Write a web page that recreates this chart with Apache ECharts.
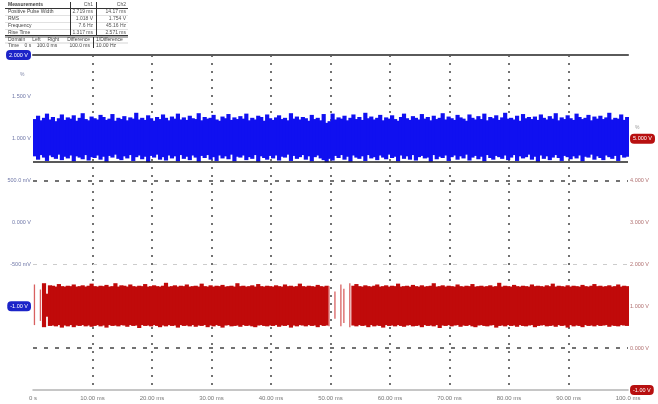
<!DOCTYPE html>
<html><head><meta charset="utf-8">
<script src="https://cdn.jsdelivr.net/npm/echarts@6/dist/echarts.min.js"></script>
<style>html,body{margin:0;padding:0;background:#fff}#c{width:658px;height:404px}</style>
</head><body><div id="c"></div>
<script>
// ---- data ----
const xTickLabels = ['0 s','10.00 ms','20.00 ms','30.00 ms','40.00 ms','50.00 ms','60.00 ms','70.00 ms','80.00 ms','90.00 ms','100.0 ms'];
const leftTickLabels = ['', '', '-1.00 V', '-500 mV', '0.000 V', '500.0 mV', '1.000 V', '1.500 V', '2.000 V'];
const rightTickLabels = ['-1.00 V', '0.000 V', '1.000 V', '2.000 V', '3.000 V', '4.000 V', '5.000 V', '', ''];
const sampleStep = 0.5; // ms per sample
const blueFloor = 5.44;
const blueHi = [
6.47,6.55,6.44,6.50,6.60,6.46,6.52,6.42,6.49,6.58,
6.45,6.51,6.48,6.56,6.43,6.50,6.61,6.47,6.44,6.53,
6.49,6.46,6.57,6.52,6.45,6.48,6.59,6.43,6.50,6.47,
6.54,6.44,6.51,6.48,6.62,6.46,6.50,6.45,6.56,6.49,
6.43,6.52,6.47,6.58,6.50,6.44,6.53,6.48,6.60,6.46,
6.51,6.45,6.55,6.49,6.47,6.61,6.44,6.52,6.48,6.50,
6.57,6.46,6.43,6.53,6.49,6.59,6.45,6.51,6.47,6.54,
6.48,6.60,6.44,6.50,6.46,6.55,6.52,6.43,6.58,6.49,
6.45,6.51,6.56,6.47,6.50,6.44,6.61,6.48,6.53,6.46,
6.52,6.49,6.43,6.57,6.47,6.50,6.44,6.59,6.38,6.42,
6.60,6.46,6.51,6.48,6.55,6.44,6.50,6.58,6.47,6.52,
6.45,6.62,6.49,6.53,6.46,6.50,6.57,6.44,6.51,6.48,
6.56,6.47,6.43,6.52,6.60,6.49,6.45,6.54,6.50,6.46,
6.59,6.48,6.52,6.44,6.55,6.47,6.50,6.61,6.46,6.53,
6.49,6.45,6.57,6.51,6.48,6.43,6.58,6.50,6.46,6.54,
6.47,6.60,6.44,6.52,6.49,6.56,6.45,6.51,6.62,6.48,
6.50,6.46,6.55,6.43,6.59,6.49,6.52,6.47,6.53,6.45,
6.58,6.50,6.46,6.54,6.48,6.61,6.44,6.51,6.47,6.56,
6.49,6.45,6.60,6.52,6.47,6.50,6.57,6.44,6.53,6.48,
6.55,6.47,6.51,6.62,6.46,6.50,6.48,6.58,6.45,6.52];
const blueLo = [
5.58,5.50,5.61,5.55,5.47,5.60,5.56,5.52,5.62,5.49,
5.57,5.53,5.60,5.46,5.58,5.55,5.51,5.61,5.48,5.56,
5.54,5.60,5.50,5.57,5.45,5.59,5.55,5.62,5.52,5.49,
5.58,5.53,5.61,5.47,5.56,5.60,5.51,5.57,5.44,5.59,
5.55,5.62,5.50,5.56,5.48,5.60,5.53,5.58,5.46,5.61,
5.52,5.57,5.49,5.60,5.55,5.45,5.59,5.54,5.61,5.50,
5.56,5.47,5.60,5.53,5.58,5.51,5.62,5.46,5.57,5.55,
5.60,5.49,5.56,5.52,5.61,5.45,5.58,5.54,5.50,5.59,
5.53,5.60,5.48,5.57,5.55,5.62,5.47,5.59,5.52,5.56,
5.61,5.50,5.58,5.46,5.56,5.60,5.53,5.49,5.44,5.52,
5.48,5.59,5.54,5.61,5.50,5.57,5.45,5.60,5.55,5.52,
5.58,5.47,5.61,5.53,5.56,5.49,5.60,5.55,5.51,5.62,
5.54,5.57,5.46,5.60,5.52,5.58,5.50,5.61,5.48,5.56,
5.59,5.53,5.55,5.45,5.61,5.51,5.57,5.54,5.60,5.47,
5.56,5.60,5.50,5.58,5.53,5.62,5.48,5.55,5.59,5.51,
5.57,5.46,5.61,5.54,5.50,5.59,5.56,5.52,5.60,5.49,
5.55,5.61,5.47,5.58,5.53,5.56,5.62,5.50,5.57,5.45,
5.60,5.52,5.58,5.49,5.55,5.61,5.54,5.47,5.59,5.56,
5.51,5.58,5.53,5.60,5.46,5.57,5.55,5.62,5.50,5.58,
5.54,5.49,5.60,5.56,5.52,5.59,5.47,5.61,5.55,5.57];
const redHi = [
2.52,null,2.40,2.55,2.30,2.50,2.49,2.47,2.53,2.48,
2.47,2.49,2.48,2.52,2.47,2.48,2.50,2.47,2.49,2.54,
2.48,2.47,2.49,2.48,2.51,2.47,2.48,2.55,2.47,2.50,
2.49,2.47,2.52,2.48,2.47,2.49,2.48,2.53,2.47,2.48,
2.50,2.48,2.47,2.49,2.56,2.47,2.48,2.50,2.47,2.49,
2.48,2.52,2.47,2.48,2.49,2.47,2.54,2.48,2.47,2.50,
2.47,2.49,2.48,2.51,2.47,2.48,2.49,2.47,2.55,2.48,
2.49,2.47,2.48,2.50,2.47,2.53,2.48,2.47,2.49,2.48,
2.47,2.50,2.48,2.47,2.52,2.48,2.49,2.47,2.48,2.54,
2.48,2.47,2.49,2.48,2.47,2.51,2.48,2.47,2.49,2.48,
null,2.35,null,2.52,2.42,null,2.55,2.49,2.53,2.48,
2.47,2.50,2.48,2.47,2.49,2.52,2.47,2.48,2.50,2.47,
2.49,2.48,2.54,2.47,2.48,2.49,2.47,2.51,2.48,2.47,
2.50,2.47,2.48,2.49,2.55,2.47,2.48,2.50,2.47,2.49,
2.48,2.47,2.52,2.48,2.47,2.49,2.48,2.53,2.47,2.48,
2.49,2.47,2.48,2.50,2.47,2.48,2.56,2.47,2.49,2.48,
2.47,2.51,2.48,2.47,2.49,2.48,2.47,2.52,2.48,2.49,
2.48,2.47,2.50,2.48,2.54,2.47,2.49,2.48,2.47,2.50,
2.47,2.49,2.48,2.47,2.51,2.48,2.47,2.49,2.53,2.48,
2.49,2.47,2.48,2.50,2.47,2.48,2.52,2.47,2.49,2.48];
const redLo = [
1.55,null,1.65,1.50,1.75,1.53,1.54,1.52,1.55,1.49,
1.54,1.52,1.55,1.50,1.54,1.53,1.55,1.52,1.54,1.51,
1.53,1.55,1.52,1.54,1.49,1.55,1.53,1.54,1.52,1.55,
1.54,1.51,1.55,1.53,1.54,1.48,1.55,1.53,1.54,1.52,
1.55,1.53,1.50,1.54,1.52,1.55,1.53,1.54,1.49,1.55,
1.53,1.54,1.52,1.55,1.51,1.54,1.53,1.55,1.50,1.54,
1.52,1.55,1.53,1.49,1.54,1.55,1.52,1.53,1.54,1.51,
1.55,1.53,1.54,1.52,1.50,1.54,1.55,1.53,1.52,1.54,
1.53,1.55,1.51,1.54,1.53,1.55,1.49,1.54,1.52,1.55,
1.54,1.52,1.55,1.53,1.54,1.50,1.55,1.53,1.54,1.52,
null,1.70,null,1.52,1.60,null,1.50,1.54,1.52,1.55,
1.53,1.54,1.50,1.55,1.52,1.54,1.53,1.49,1.55,1.53,
1.54,1.52,1.55,1.53,1.51,1.54,1.55,1.52,1.53,1.54,
1.50,1.55,1.53,1.54,1.52,1.55,1.48,1.54,1.53,1.55,
1.52,1.54,1.55,1.51,1.54,1.53,1.55,1.52,1.50,1.54,
1.55,1.53,1.52,1.54,1.55,1.49,1.53,1.54,1.52,1.55,
1.53,1.54,1.51,1.55,1.53,1.52,1.54,1.55,1.50,1.53,
1.54,1.55,1.52,1.53,1.54,1.51,1.55,1.53,1.54,1.49,
1.55,1.52,1.54,1.53,1.50,1.55,1.53,1.54,1.52,1.55,
1.53,1.54,1.55,1.51,1.54,1.53,1.52,1.55,1.54,1.53];

// ---- measurement table text ----
const tableRows = [
  ['Measurements', 'Ch1', 'Ch2'],
  ['Positive Pulse Width', '2.719 ms', '14.17 ms'],
  ['RMS', '1.018 V', '1.754 V'],
  ['Frequency', '7.6 Hz', '45.16 Hz'],
  ['Rise Time', '1.317 ms', '2.571 ms']
];
const cursorRows = [
  ['Domain     Left     Right', 'Difference', '1/Difference'],
  ['Time    0 s    100.0 ms', '100.0 ms', '10.00 Hz']
];

function toItems(hi, lo) {
  const out = [];
  for (let i = 0; i < hi.length; i++) {
    if (hi[i] === null || lo[i] === null) continue;
    out.push([i * sampleStep, lo[i], hi[i], i]);
  }
  return out;
}
function bandRender(arr, color, light) {
  return function (params, api) {
    const t = api.value(0), lo = api.value(1), hi = api.value(2), i = api.value(3);
    const p1 = api.coord([t, hi]);
    const p2 = api.coord([t + sampleStep, lo]);
    const sparse = arr[i - 1] === null || arr[i + 1] === null;
    let x = p1[0], w = p2[0] - p1[0] + 1.2;
    if (sparse) { x = p1[0] + 0.8; w = 1.3; }
    return { type: 'rect', shape: { x: x, y: p1[1], width: w, height: p2[1] - p1[1] },
      style: { fill: sparse ? light : color } };
  };
}

const G = [];
const tl = 5, tr = 128;
tableRows.forEach((r, k) => {
  const y = 5 + k * 7;
  G.push({ type: 'text', x: 8, y: y, style: { text: r[0], fill: '#444', font: (k === 0 ? 'bold ' : '') + '5px sans-serif', textVerticalAlign: 'middle' } });
  G.push({ type: 'text', x: 93, y: y, style: { text: r[1], fill: '#555', font: '5px sans-serif', textAlign: 'right', textVerticalAlign: 'middle' } });
  G.push({ type: 'text', x: 126, y: y, style: { text: r[2], fill: '#555', font: '5px sans-serif', textAlign: 'right', textVerticalAlign: 'middle' } });
});
cursorRows.forEach((r, k) => {
  const y = 40 + k * 6;
  G.push({ type: 'text', x: 8, y: y, style: { text: r[0], fill: '#444', font: '5px sans-serif', textVerticalAlign: 'middle' } });
  G.push({ type: 'text', x: 90, y: y, style: { text: r[1], fill: '#444', font: '5px sans-serif', textAlign: 'right', textVerticalAlign: 'middle' } });
  G.push({ type: 'text', x: 96, y: y, style: { text: r[2], fill: '#444', font: '5px sans-serif', textVerticalAlign: 'middle' } });
});
function hl(y, c, w) { G.push({ type: 'line', shape: { x1: tl, y1: y, x2: tr, y2: y }, style: { stroke: c, lineWidth: w } }); }
function vl(x, y1, y2) { G.push({ type: 'line', shape: { x1: x, y1: y1, x2: x, y2: y2 }, style: { stroke: '#333', lineWidth: 1 } }); }
hl(8.5, '#333', 1); hl(15.5, '#ccc', 0.6); hl(22.5, '#ccc', 0.6); hl(29.5, '#ccc', 0.6); hl(35.5, '#333', 1); hl(37, '#333', 0.8); hl(43, '#bbb', 0.6);
vl(70.5, 2, 36); vl(96.5, 2, 36); vl(93.5, 37, 48);
G.push({ type: 'text', x: 20, y: 75, style: { text: '%', fill: '#8088aa', font: '5px sans-serif', textVerticalAlign: 'middle' } });
G.push({ type: 'text', x: 635, y: 128, style: { text: '%', fill: '#999', font: '5px sans-serif', textVerticalAlign: 'middle' } });

const chart = echarts.init(document.getElementById('c'), null, { renderer: 'canvas' });
chart.setOption({
  backgroundColor: '#fff',
  animation: false,
  graphic: G,
  grid: { left: 33, right: 28, top: 55, bottom: 14 },
  xAxis: [{
    type: 'value', min: 0, max: 100, interval: 10,
    axisLine: { show: true, onZero: false, lineStyle: { color: '#b4b4b4', width: 1.5 } },
    axisTick: { show: false },
    axisLabel: { fontSize: 6, color: '#777', margin: 5, showMaxLabel: true, showMinLabel: true,
      formatter: v => xTickLabels[Math.round(v / 10)] },
    splitLine: { show: true, showMinLine: false, showMaxLine: false, lineStyle: { color: '#444', width: 1.5, type: [2, 6] } }
  }, {
    type: 'value', min: 0, max: 100, position: 'top',
    axisLine: { show: true, onZero: false, lineStyle: { color: '#5a5a5a', width: 2 } },
    axisTick: { show: false }, axisLabel: { show: false }, splitLine: { show: false }
  }],
  yAxis: [{
    type: 'value', min: 0, max: 8, interval: 1, position: 'left',
    axisLine: { show: false }, axisTick: { show: false }, splitLine: { show: false },
    axisLabel: { margin: 2, fontSize: 5.5, color: '#7078a8',
      formatter: v => { const t = leftTickLabels[Math.round(v)]; if (!t) return ''; return (v === 8 || v === 2) ? '{b|' + t + '}' : t; },
      rich: { b: { backgroundColor: '#1c24c8', color: '#fff', borderRadius: 4, padding: [2, 3], fontSize: 5.5 } } }
  }, {
    type: 'value', min: 0, max: 8, interval: 1, position: 'right',
    axisLine: { show: false }, axisTick: { show: false }, splitLine: { show: false },
    axisLabel: { margin: 2, fontSize: 5.5, color: '#b07070',
      formatter: v => { const t = rightTickLabels[Math.round(v)]; if (!t) return ''; return (v === 6 || v === 0) ? '{r|' + t + '}' : t; },
      rich: { r: { backgroundColor: '#b81010', color: '#fff', borderRadius: 4, padding: [2, 3], fontSize: 5.5 } } }
  }],
  series: [{
    type: 'custom', name: 'Ch1', xAxisIndex: 0, yAxisIndex: 0, clip: true,
    encode: { x: 0, y: [1, 2] },
    renderItem: bandRender(blueHi, '#1010f0', '#6a6af5'),
    data: toItems(blueHi, blueLo),
    markLine: {
      silent: true, symbol: 'none', label: { show: false },
      data: [
        { yAxis: 5, lineStyle: { color: '#444', width: 1.5, type: [4, 7] } },
        { yAxis: 1, lineStyle: { color: '#444', width: 1.5, type: [4, 7] } },
        { yAxis: 3, lineStyle: { color: '#ccc', width: 1, type: [4, 6] } },
        { yAxis: blueFloor, lineStyle: { color: '#222', width: 1.5, type: 'solid' } }
      ]
    }
  }, {
    type: 'custom', name: 'Ch2', xAxisIndex: 0, yAxisIndex: 0, clip: true,
    encode: { x: 0, y: [1, 2] },
    renderItem: bandRender(redHi, '#c00a0a', '#d86060'),
    data: toItems(redHi, redLo)
  }]
});
</script></body></html>
